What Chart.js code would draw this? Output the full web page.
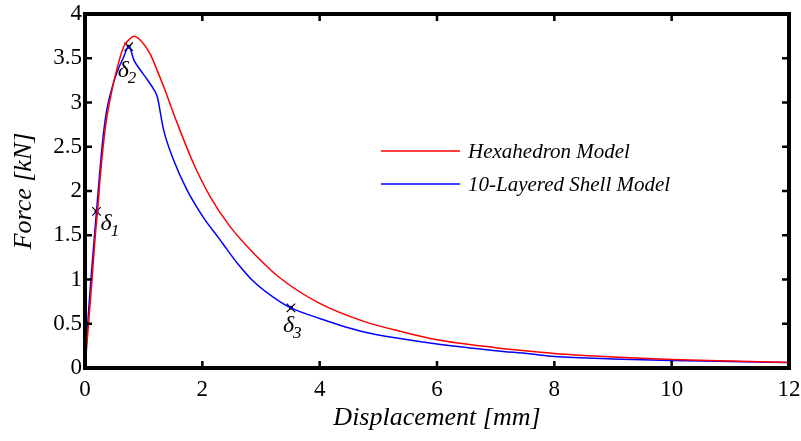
<!DOCTYPE html>
<html>
<head>
<meta charset="utf-8">
<script src="https://cdn.jsdelivr.net/npm/chart.js@4.4.1/dist/chart.umd.min.js"></script>
<style>
  html, body { margin: 0; padding: 0; background: #fff; }
  #wrap { width: 801px; height: 441px; }
</style>
</head>
<body>
<div id="wrap"><canvas id="forceChart" width="801" height="441"></canvas></div>
<script>
// Hexahedron model (red)
const hexDisp  = [0, 0.06, 0.12, 0.17, 0.22, 0.26, 0.35, 0.46, 0.56, 0.66, 0.75, 0.84, 0.95, 1.11, 1.22, 1.34, 1.57, 1.85, 2.13, 2.47, 2.87, 3.32, 4.0, 4.74, 5.4, 6.0, 7.0, 7.58, 8.0, 9.0, 10.0, 11.0, 12.0];
const hexForce = [0, 0.5, 1.0, 1.45, 1.82, 2.16, 2.73, 3.14, 3.42, 3.63, 3.71, 3.75, 3.70, 3.55, 3.38, 3.18, 2.77, 2.31, 1.94, 1.60, 1.30, 1.02, 0.73, 0.53, 0.41, 0.32, 0.23, 0.19, 0.165, 0.125, 0.096, 0.078, 0.063];

// 10-layered shell model (blue)
const shellDisp  = [0, 0.04, 0.1, 0.196, 0.25, 0.3, 0.35, 0.4, 0.45, 0.55, 0.65, 0.745, 0.84, 0.94, 1.06, 1.18, 1.23, 1.34, 1.51, 1.74, 2.02, 2.3, 2.42, 2.59, 2.87, 3.32, 3.51, 4.0, 4.74, 5.4, 6.0, 7.0, 7.58, 8.0, 9.0, 10.0, 11.0, 12.0];
const shellForce = [0, 0.45, 1.0, 1.77, 2.2, 2.56, 2.83, 3.01, 3.14, 3.35, 3.5, 3.63, 3.47, 3.37, 3.26, 3.14, 3.07, 2.69, 2.35, 2.01, 1.70, 1.45, 1.34, 1.19, 0.98, 0.75, 0.68, 0.56, 0.41, 0.33, 0.27, 0.195, 0.16, 0.13, 0.102, 0.086, 0.074, 0.063];

// marked points delta1..delta3
const markLabels = ['1', '2', '3'];
const markDisp   = [0.196, 0.745, 3.51];
const markForce  = [1.77, 3.63, 0.68];

const xTicks = [0, 2, 4, 6, 8, 10, 12];
const yTicks = [0, 0.5, 1, 1.5, 2, 2.5, 3, 3.5, 4];

const serif = "'Liberation Serif', 'DejaVu Serif', serif";

function pairs(xs, ys) {
    return xs.map((x, i) => ({x: x, y: ys[i]}));
}

// box around the plot with ticks pointing inward
const boxPlugin = {
    id: 'box',
    afterDraw(chart) {
        const ctx = chart.ctx;
        const a = chart.chartArea;
        const xs = chart.scales.x, ys = chart.scales.y;
        ctx.save();
        ctx.strokeStyle = '#000';
        ctx.lineWidth = 2.5;
        const tl = 7;
        ctx.beginPath();
        xTicks.forEach(v => {
            const px = xs.getPixelForValue(v);
            ctx.moveTo(px, a.bottom); ctx.lineTo(px, a.bottom - tl);
            ctx.moveTo(px, a.top); ctx.lineTo(px, a.top + tl);
        });
        yTicks.forEach(v => {
            const py = ys.getPixelForValue(v);
            ctx.moveTo(a.left, py); ctx.lineTo(a.left + tl, py);
            ctx.moveTo(a.right, py); ctx.lineTo(a.right - tl, py);
        });
        ctx.stroke();
        ctx.lineWidth = 4;
        ctx.strokeRect(a.left, a.top, a.right - a.left, a.bottom - a.top);
        ctx.restore();
    }
};

// delta labels next to the marked points
const deltaPlugin = {
    id: 'deltas',
    afterDatasetsDraw(chart) {
        const ctx = chart.ctx;
        const xs = chart.scales.x, ys = chart.scales.y;
        const offs = [[4, 19], [-11, 30], [-8, 24]];
        ctx.save();
        ctx.fillStyle = '#000';
        ctx.textBaseline = 'alphabetic';
        markLabels.forEach((s, i) => {
            const px = xs.getPixelForValue(markDisp[i]) + offs[i][0];
            const py = ys.getPixelForValue(markForce[i]) + offs[i][1];
            ctx.font = 'italic 24px ' + serif;
            ctx.fillText('δ', px, py);
            const w = ctx.measureText('δ').width;
            ctx.font = 'italic 17px ' + serif;
            ctx.fillText(s, px + w - 1, py + 6);
        });
        ctx.restore();
    }
};

// legend drawn inside the plot
const legendPlugin = {
    id: 'inLegend',
    afterDraw(chart) {
        const ctx = chart.ctx;
        const a = chart.chartArea;
        const x0 = a.left + 296, x1 = a.left + 375, tx = a.left + 383;
        const rows = [a.top + 137, a.top + 170];
        ctx.save();
        ctx.font = 'italic 21px ' + serif;
        ctx.textBaseline = 'middle';
        chart.data.datasets.slice(0, 2).forEach((ds, i) => {
            ctx.strokeStyle = ds.borderColor;
            ctx.lineWidth = 1.5;
            ctx.beginPath();
            ctx.moveTo(x0, rows[i]);
            ctx.lineTo(x1, rows[i]);
            ctx.stroke();
            ctx.fillStyle = '#000';
            ctx.fillText(ds.label, tx, rows[i] + 1);
        });
        ctx.restore();
    }
};

new Chart(document.getElementById('forceChart'), {
    type: 'line',
    data: {
        datasets: [{
            label: 'Hexahedron Model',
            data: pairs(hexDisp, hexForce),
            borderColor: '#ff0000',
            borderWidth: 1.5,
            pointRadius: 0,
            cubicInterpolationMode: 'monotone',
            fill: false
        }, {
            label: '10-Layered Shell Model',
            data: pairs(shellDisp, shellForce),
            borderColor: '#0000ff',
            borderWidth: 1.5,
            pointRadius: 0,
            cubicInterpolationMode: 'monotone',
            fill: false
        }, {
            label: 'marks',
            type: 'scatter',
            data: pairs(markDisp, markForce),
            pointStyle: 'crossRot',
            pointRadius: 6,
            borderColor: '#000',
            borderWidth: 1.2,
            backgroundColor: '#000'
        }, {
            label: 'dots',
            type: 'scatter',
            data: pairs(markDisp, markForce),
            pointStyle: 'circle',
            pointRadius: 2,
            borderWidth: 0,
            backgroundColor: '#000'
        }]
    },
    options: {
        responsive: false,
        animation: false,
        layout: { padding: { top: 14, right: 12, left: 0, bottom: 0 } },
        plugins: {
            legend: { display: false },
            tooltip: { enabled: false }
        },
        scales: {
            x: {
                type: 'linear',
                min: 0, max: 12,
                afterBuildTicks: s => { s.ticks = xTicks.map(v => ({value: v})); },
                afterFit: s => { s.height = 73; s.paddingLeft = 0; s.paddingRight = 0; },
                grid: { display: false, drawTicks: false },
                border: { display: false },
                ticks: { color: '#000', padding: 8, font: { family: serif, size: 23 }, callback: v => String(v) },
                title: {
                    display: true,
                    text: 'Displacement [mm]',
                    color: '#000',
                    padding: { top: 0, bottom: 7 },
                    font: { family: serif, size: 26, style: 'italic' }
                }
            },
            y: {
                min: 0, max: 4,
                afterBuildTicks: s => { s.ticks = yTicks.map(v => ({value: v})); },
                afterFit: s => { s.width = 85; s.paddingTop = 0; s.paddingBottom = 0; },
                grid: { display: false, drawTicks: false },
                border: { display: false },
                ticks: { color: '#000', padding: 3, font: { family: serif, size: 23 }, callback: v => String(v) },
                title: {
                    display: true,
                    text: 'Force [kN]',
                    color: '#000',
                    padding: { top: 9, bottom: 0 },
                    font: { family: serif, size: 26, style: 'italic' }
                }
            }
        }
    },
    plugins: [boxPlugin, deltaPlugin, legendPlugin]
});
</script>
</body>
</html>
